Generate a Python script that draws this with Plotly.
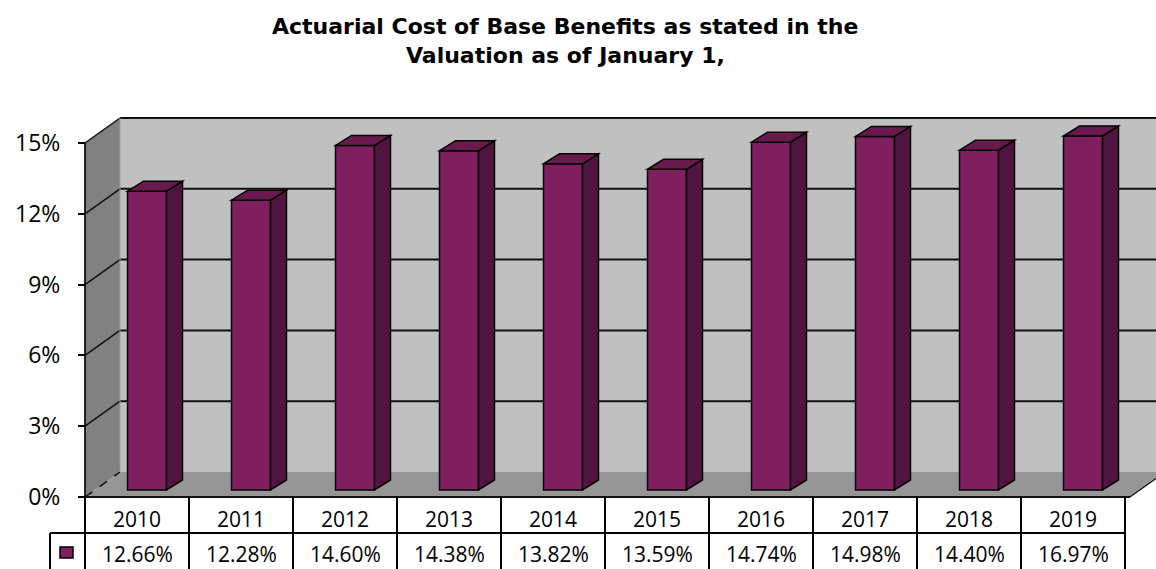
import plotly.graph_objects as go

# ---------------- data ----------------
years = ["2010", "2011", "2012", "2013", "2014", "2015", "2016", "2017", "2018", "2019"]
cost_pct = [12.66, 12.28, 14.60, 14.38, 13.82, 13.59, 14.74, 14.98, 14.40, 16.97]
value_labels = ["12.66%", "12.28%", "14.60%", "14.38%", "13.82%", "13.59%", "14.74%", "14.98%", "14.40%", "16.97%"]
y_ticks = [0, 3, 6, 9, 12, 15]
title_lines = ["Actuarial Cost of Base Benefits as stated in the", "Valuation as of January 1,"]

# ---------------- geometry (in axis units) ----------------
W, H = 1156, 569
PX_CAT = 104.0          # pixels per category
PX_PCT = 23.6           # pixels per percentage point
X0_PX, Y0_PX = 85, 497  # front-left corner of floor (pixels)
YMAX = 15               # value axis maximum

xmin = -X0_PX / PX_CAT - 0.5
xmax = (W - X0_PX) / PX_CAT - 0.5
ymin = -(H - Y0_PX) / PX_PCT
ymax = Y0_PX / PX_PCT

def cx(px):   # pixel distance -> category units
    return px / PX_CAT

def cy(px):   # pixel distance -> percent units
    return px / PX_PCT

WALL_DX, WALL_DY = cx(35), cy(25)   # depth of the chart box
BAR_DX, BAR_DY = cx(10), cy(7)      # depth position of bar front face
BAR_W = cx(39)                      # bar width
SIDE_DX, SIDE_DY = cx(16), cy(10)   # bar depth

n = len(years)
x_left, x_right = -0.5, n - 0.5

BACK_WALL = "#C0C0C0"
LEFT_WALL = "#818181"
FLOOR = "#969696"
BAR_FRONT = "#801F60"
BAR_SIDE = "#501440"
BAR_TOP = "#681A4F"
LINE = "#111111"
FONT = "Open Sans"
TITLE_FONT = "DejaVu Sans"

def poly(pts):
    return "M " + " L ".join(f"{x},{y}" for x, y in pts) + " Z"

shapes = []
# back wall
shapes.append(dict(type="path", xref="x", yref="y", layer="below",
                   path=poly([(x_left + WALL_DX, WALL_DY), (x_right + 3 * WALL_DX, WALL_DY),
                              (x_right + 3 * WALL_DX, YMAX + WALL_DY), (x_left + WALL_DX, YMAX + WALL_DY)]),
                   fillcolor=BACK_WALL, line=dict(width=0)))
# left wall
shapes.append(dict(type="path", xref="x", yref="y", layer="below",
                   path=poly([(x_left, 0), (x_left, YMAX), (x_left + WALL_DX, YMAX + WALL_DY),
                              (x_left + WALL_DX, WALL_DY)]),
                   fillcolor=LEFT_WALL, line=dict(width=0)))
# floor
shapes.append(dict(type="path", xref="x", yref="y", layer="below",
                   path=poly([(x_left, 0), (x_right + cx(5), 0), (x_right + cx(5) + WALL_DX, WALL_DY),
                              (x_left + WALL_DX, WALL_DY)]),
                   fillcolor=FLOOR, line=dict(width=0)))
# gridlines on back wall and left wall
for t in y_ticks:
    if t > 0:
        shapes.append(dict(type="line", xref="x", yref="y", layer="below",
                           x0=x_left + WALL_DX, x1=x_right + 3 * WALL_DX, y0=t + WALL_DY, y1=t + WALL_DY,
                           line=dict(color=LINE, width=2)))
    shapes.append(dict(type="line", xref="x", yref="y", layer="below",
                       x0=x_left, x1=x_left + WALL_DX, y0=t, y1=t + WALL_DY,
                       line=dict(color=LINE, width=1.5, dash="dash" if t == 0 else "solid")))
# left wall edges
shapes.append(dict(type="line", xref="x", yref="y", layer="below",
                   x0=x_left, x1=x_left, y0=ymin, y1=YMAX, line=dict(color=LINE, width=1.8)))
shapes.append(dict(type="line", xref="x", yref="y", layer="below",
                   x0=x_left + WALL_DX, x1=x_left + WALL_DX, y0=WALL_DY, y1=YMAX + WALL_DY,
                   line=dict(color="#9a9a9a", width=1)))
# floor front edge / right diagonal
shapes.append(dict(type="line", xref="x", yref="y", layer="below",
                   x0=x_left, x1=x_right + cx(5), y0=0, y1=0, line=dict(color=LINE, width=2)))
shapes.append(dict(type="line", xref="x", yref="y", layer="below",
                   x0=x_right + cx(5), x1=x_right + cx(5) + WALL_DX, y0=0, y1=WALL_DY,
                   line=dict(color=LINE, width=1.2)))

# bar side and top faces
heights = [min(v, YMAX) for v in cost_pct]
for i, h in enumerate(heights):
    xl = i + BAR_DX - BAR_W / 2
    xr = i + BAR_DX + BAR_W / 2
    base = BAR_DY
    top = BAR_DY + h
    shapes.append(dict(type="path", xref="x", yref="y", layer="above",
                       path=poly([(xr, base), (xr, top), (xr + SIDE_DX, top + SIDE_DY), (xr + SIDE_DX, base + SIDE_DY)]),
                       fillcolor=BAR_SIDE, line=dict(color="#000000", width=1.5)))
    shapes.append(dict(type="path", xref="x", yref="y", layer="above",
                       path=poly([(xl, top), (xr, top), (xr + SIDE_DX, top + SIDE_DY), (xl + SIDE_DX, top + SIDE_DY)]),
                       fillcolor=BAR_TOP, line=dict(color="#000000", width=1.5)))

# data table grid
row1_bot = cy(-36)   # 533 px
for k in range(n + 1):
    xv = -0.5 + k
    shapes.append(dict(type="line", xref="x", yref="y", x0=xv, x1=xv, y0=0, y1=ymin,
                       line=dict(color="#000000", width=2)))
shapes.append(dict(type="line", xref="x", yref="y", x0=x_left - cx(35), x1=x_right, y0=row1_bot, y1=row1_bot,
                   line=dict(color="#000000", width=2)))
shapes.append(dict(type="line", xref="x", yref="y", x0=x_left - cx(35), x1=x_left - cx(35), y0=row1_bot, y1=ymin,
                   line=dict(color="#000000", width=2)))
# legend key
shapes.append(dict(type="rect", xref="x", yref="y",
                   x0=x_left - cx(25), x1=x_left - cx(12), y0=cy(-50), y1=cy(-61),
                   fillcolor=BAR_FRONT, line=dict(color="#000000", width=1.5)))

annotations = []
for i, yr in enumerate(years):
    annotations.append(dict(x=i, y=cy(-22), xref="x", yref="y", text=yr, showarrow=False,
                            font=dict(family=FONT, size=21, color="#000000")))
    annotations.append(dict(x=i, y=cy(-57), xref="x", yref="y", text=value_labels[i], showarrow=False,
                            font=dict(family=FONT, size=21, color="#000000")))
# title lines
for j, (line_txt, ypx) in enumerate(zip(title_lines, [27, 56])):
    annotations.append(dict(x=565 / W, y=1 - ypx / H, xref="paper", yref="paper",
                            xanchor="center", yanchor="middle", showarrow=False,
                            text="<b>" + line_txt + "</b>",
                            font=dict(family=TITLE_FONT, size=22, color="#000000")))

fig = go.Figure()
fig.add_trace(go.Bar(
    x=[i + BAR_DX for i in range(n)], y=heights, base=BAR_DY, width=BAR_W,
    marker=dict(color=BAR_FRONT, line=dict(color="#000000", width=1.5)),
    hoverinfo="skip", showlegend=False,
))

fig.update_layout(
    width=W, height=H,
    margin=dict(l=0, r=0, t=0, b=0),
    paper_bgcolor="white", plot_bgcolor="white",
    showlegend=False,
    xaxis=dict(range=[xmin, xmax], visible=False, fixedrange=True),
    yaxis=dict(range=[ymin, ymax], anchor="free", position=X0_PX / W,
               tickvals=y_ticks, ticktext=[f"{t}%" for t in y_ticks],
               ticks="outside", ticklen=7, tickwidth=1.5, tickcolor="#000000",
               ticklabelstandoff=13,
               showgrid=False, zeroline=False, showline=False,
               tickfont=dict(family=FONT, size=23, color="#000000"), fixedrange=True),
    shapes=shapes,
    annotations=annotations,
)

fig.write_html("out.html", config={"displayModeBar": False},
               post_script="document.body.style.margin='0px';document.body.style.padding='0px';")
